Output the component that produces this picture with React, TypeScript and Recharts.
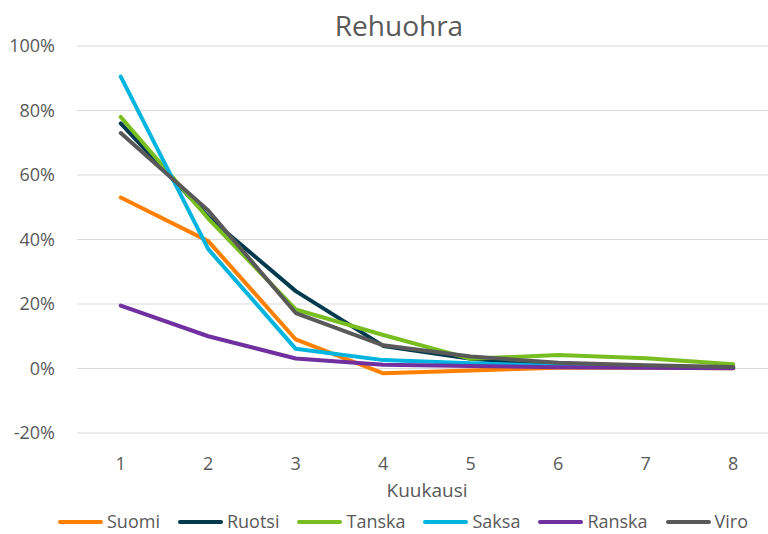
import { LineChart, Line, XAxis, YAxis, CartesianGrid, Label } from "recharts";

const months = ["1", "2", "3", "4", "5", "6", "7", "8"];

const suomi = [0.53, 0.395, 0.09, -0.015, -0.006, 0.002, 0.002, 0.001];
const ruotsi = [0.76, 0.47, 0.24, 0.07, 0.03, 0.01, 0.005, 0.004];
const tanska = [0.78, 0.465, 0.183, 0.104, 0.03, 0.042, 0.032, 0.013];
const saksa = [0.905, 0.37, 0.061, 0.026, 0.016, 0.008, 0.005, 0.004];
const ranska = [0.195, 0.1, 0.031, 0.012, 0.008, 0.004, 0.002, 0.001];
const viro = [0.73, 0.49, 0.172, 0.072, 0.037, 0.018, 0.01, 0.005];

const yTicks = [-0.2, 0, 0.2, 0.4, 0.6, 0.8, 1.0];

// maan nimi, data, väri
const SERIES = [
    { name: "Suomi", values: suomi, color: "#ff8000" },
    { name: "Ruotsi", values: ruotsi, color: "#003a4d" },
    { name: "Tanska", values: tanska, color: "#78be20" },
    { name: "Saksa", values: saksa, color: "#00b4e0" },
    { name: "Ranska", values: ranska, color: "#7030a0" },
    { name: "Viro", values: viro, color: "#595959" },
];

const data = months.map((m, i) => {
    const row: Record<string, any> = { month: m };
    SERIES.forEach((s) => { row[s.name] = s.values[i]; });
    return row;
});

const TEXT = "#595959";
const FONT = "'Open Sans', sans-serif";

export default function App() {
    return (
        <div style={{ position: "absolute", left: 0, top: 0, width: 768, height: 534, overflow: "hidden", background: "#fff", fontFamily: FONT }}>
            <div style={{ position: "absolute", top: 11, left: 299, width: 200, textAlign: "center", fontSize: 28, lineHeight: 1, color: TEXT }}>
                Rehuohra
            </div>
            <LineChart width={800} height={503} data={data} margin={{ top: 46, right: 23, left: 0, bottom: 0 }}>
                <CartesianGrid vertical={false} stroke="#d9d9d9" strokeWidth={1} />
                <XAxis
                    dataKey="month"
                    height={70}
                    axisLine={false}
                    tickLine={false}
                    tickSize={0}
                    tickMargin={24}
                    padding={{ left: 43.75, right: 43.75 }}
                    tick={{ fill: TEXT, fontSize: 18, fontFamily: FONT }}
                >
                    <Label value="Kuukausi" position="insideBottom" offset={6} fill={TEXT} fontSize={19} fontFamily={FONT} />
                </XAxis>
                <YAxis
                    width={77}
                    domain={[-0.2, 1.0]}
                    ticks={yTicks}
                    axisLine={false}
                    tickLine={false}
                    tickSize={0}
                    tickMargin={22}
                    tickFormatter={(v: number) => `${Math.round(v * 100)}%`}
                    tick={{ fill: TEXT, fontSize: 18, fontFamily: FONT }}
                />
                {SERIES.map((s) => (
                    <Line
                        key={s.name}
                        type="linear"
                        dataKey={s.name}
                        stroke={s.color}
                        strokeWidth={4}
                        strokeLinecap="round"
                        strokeLinejoin="round"
                        dot={false}
                        activeDot={false}
                        isAnimationActive={false}
                    />
                ))}
            </LineChart>
            <div style={{ position: "absolute", top: 512, left: 58, display: "flex", alignItems: "center", gap: 18, fontSize: 18, lineHeight: 1.1, color: TEXT }}>
                {SERIES.map((s) => (
                    <div key={s.name} style={{ display: "flex", alignItems: "center" }}>
                        <div style={{ width: 45, height: 4, borderRadius: 2, background: s.color, marginRight: 4 }} />
                        <span>{s.name}</span>
                    </div>
                ))}
            </div>
        </div>
    );
}
